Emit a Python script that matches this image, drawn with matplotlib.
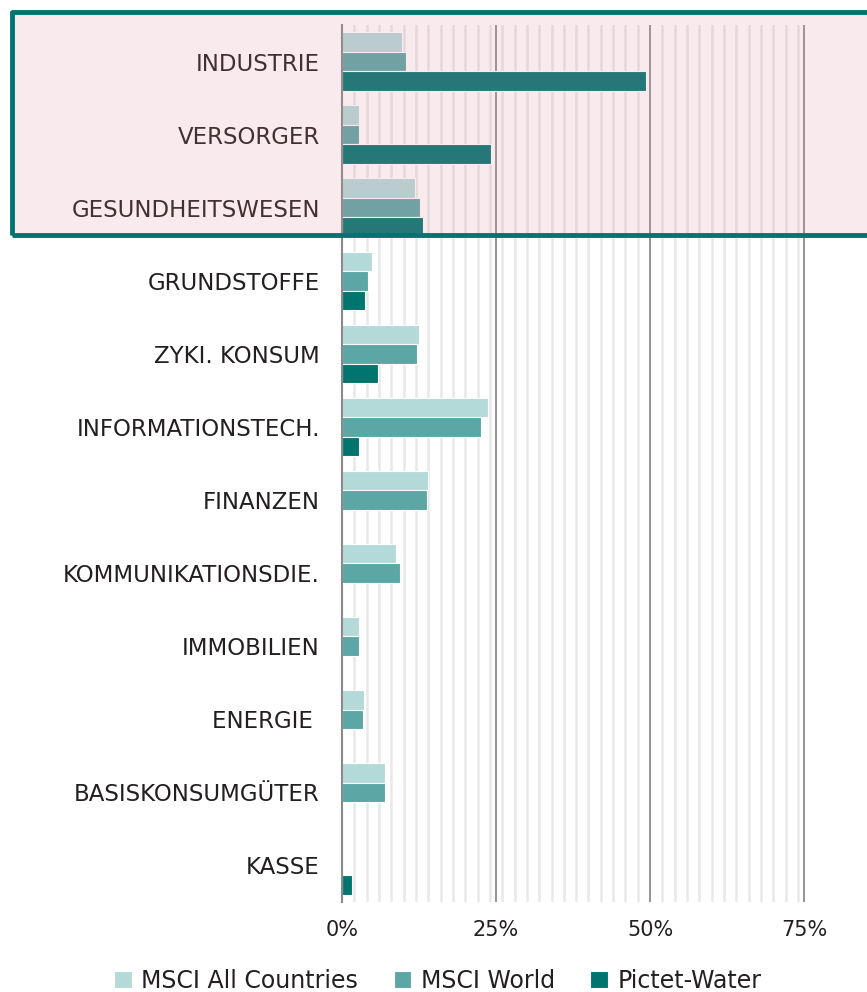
import matplotlib
matplotlib.use('Agg')
import matplotlib.pyplot as plt
from matplotlib.patches import Rectangle
import numpy as np

plt.rcParams['font.family'] = ['DejaVu Sans']

categories = ['INDUSTRIE', 'VERSORGER', 'GESUNDHEITSWESEN', 'GRUNDSTOFFE',
              'ZYKI. KONSUM', 'INFORMATIONSTECH.', 'FINANZEN',
              'KOMMUNIKATIONSDIE.', 'IMMOBILIEN', 'ENERGIE ',
              'BASISKONSUMGÜTER', 'KASSE']
msci_acwi = [9.7, 2.8, 11.9, 4.8, 12.5, 23.7, 14.0, 8.8, 2.8, 3.5, 6.9, 0]
msci_world = [10.4, 2.8, 12.7, 4.3, 12.2, 22.6, 13.8, 9.4, 2.8, 3.4, 7.0, 0]
pictet_water = [49.4, 24.2, 13.1, 3.8, 5.8, 2.8, 0, 0, 0, 0, 0, 1.7]
series_names = ['MSCI All Countries', 'MSCI World', 'Pictet-Water']
xticks = [0, 25, 50, 75]
xticklabels = ['0%', '25%', '50%', '75%']

colors = ['#b4d9d9', '#5ca6a6', '#007570']
text_color = '#231f20'

fig = plt.figure(figsize=(8.67, 9.92), dpi=100)
ax = fig.add_axes([342/867, 1 - 902/992, 1 - 342/867, (902 - 25)/992])

y = np.arange(len(categories))
h = 0.267
for i, (vals, name) in enumerate(zip([msci_acwi, msci_world, pictet_water], series_names)):
    vals = np.array(vals, dtype=float)
    mask = vals > 0
    ax.barh(y[mask] + (i - 1) * h, vals[mask], height=h, color=colors[i],
            edgecolor='white', linewidth=0.8, label=name, zorder=3)

ax.set_xlim(0, 85.2)
ax.set_ylim(len(categories) - 0.5, -0.5)

# gridlines: light every 2%, dark every 25%
for v in np.arange(2, 75, 2):
    if v % 25:
        ax.axvline(v, color='#e8e8e8', linewidth=1.8, zorder=1)
for v in [25, 50, 75]:
    ax.axvline(v, color='#767676', linewidth=1.1, zorder=2)

for s in ['top', 'right', 'bottom']:
    ax.spines[s].set_visible(False)
ax.spines['left'].set_color('#8a8a8a')
ax.spines['left'].set_linewidth(1.5)
ax.spines['left'].set_zorder(4)

ax.set_yticks(y)
ax.set_yticklabels(categories, fontsize=16.5, color=text_color)
ax.set_xticks(xticks)
ax.set_xticklabels(xticklabels, fontsize=15, color=text_color)
ax.tick_params(axis='y', length=0, pad=16)
ax.tick_params(axis='x', length=0, pad=13)

# highlight box over the first three sectors
W, H = 867, 992
fig.patches.append(Rectangle((12/W, 1 - 235/H), 870/W, 223/H, transform=fig.transFigure,
                             facecolor='#dc8c96', alpha=0.17, edgecolor='none', zorder=5))
fig.patches.append(Rectangle((12/W, 1 - 235/H), 870/W, 223/H, transform=fig.transFigure,
                             facecolor='none', edgecolor='#007570', linewidth=3.5,
                             joinstyle='round', zorder=6))

fig.legend(loc='lower center', bbox_to_anchor=(0.505, -0.022), ncol=3, frameon=False,
           fontsize=17, handlelength=0.75, handleheight=0.75, handletextpad=0.4,
           columnspacing=1.5, labelcolor=text_color)

fig.savefig('out.png', dpi=100)
